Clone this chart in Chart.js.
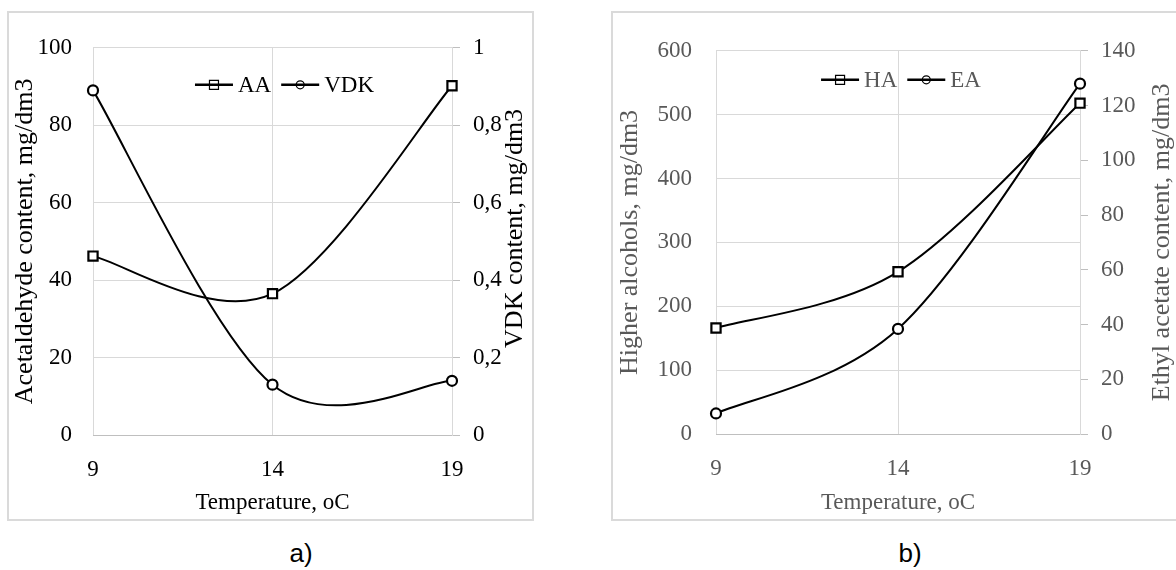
<!DOCTYPE html>
<html>
<head>
<meta charset="utf-8">
<script src="https://cdn.jsdelivr.net/npm/chart.js@4.4.0/dist/chart.umd.min.js"></script>
<style>
  html, body { margin: 0; padding: 0; background: #fff; width: 1176px; height: 570px; overflow: hidden; }
  .box { position: absolute; top: 11px; height: 506px; border: 2px solid #dadada; }
  #boxA { left: 7px; width: 523px; }
  #boxB { left: 611px; width: 580px; }
  .cap { position: absolute; top: 538px; width: 60px; text-align: center; font: 26px "Liberation Sans", Arial, sans-serif; color: #000; }
</style>
</head>
<body>
<div class="box" id="boxA"><canvas id="chartA" width="523" height="506"></canvas></div>
<div class="box" id="boxB"><canvas id="chartB" width="580" height="506"></canvas></div>
<div class="cap" style="left:271px">a)</div>
<div class="cap" style="left:880px">b)</div>
<script>
// shared x categories
const temps = ['9', '14', '19'];

// chart a)
const aaValues = [46.2, 36.5, 90.2];
const vdkValues = [0.89, 0.13, 0.14];
const aaTicks = [0, 20, 40, 60, 80, 100];
const vdkTicks = [0, 0.2, 0.4, 0.6, 0.8, 1];

// chart b)
const haValues = [166, 254, 518];
const eaValues = [7.5, 38.4, 128];
const haTicks = [0, 100, 200, 300, 400, 500, 600];
const eaTicks = [0, 20, 40, 60, 80, 100, 120, 140];

const SERIF = "'Liberation Serif', 'Times New Roman', serif";
Chart.defaults.font.family = SERIF;

// excel style smoothing: uniform catmull-rom tangents instead of chart.js distance weighted ones
const excelSmooth = {
  id: 'excelSmooth',
  beforeDatasetsDraw(chart) {
    chart.getSortedVisibleDatasetMetas().forEach(meta => {
      const line = meta.dataset;
      line.updateControlPoints(chart.chartArea, meta.iScale.axis);
      const pts = meta.data;
      pts.forEach((p, i) => {
        const prev = pts[i - 1] || p, next = pts[i + 1] || p;
        const dx = (next.x - prev.x) / 6, dy = (next.y - prev.y) / 6;
        p.cp1x = p.x - dx; p.cp1y = p.y - dy;
        p.cp2x = p.x + dx; p.cp2y = p.y + dy;
      });
      line._path = undefined;
    });
  }
};

// axis titles + excel-like legend (line with marker in the middle)
const decor = {
  id: 'decor',
  afterDraw(chart, args, o) {
    const { ctx, chartArea: a } = chart;
    const midX = (a.left + a.right) / 2, midY = (a.top + a.bottom) / 2;
    ctx.save();
    ctx.fillStyle = o.color;
    ctx.textAlign = 'center';
    ctx.textBaseline = 'middle';
    ctx.font = o.xTitleFont;
    ctx.fillText(o.xTitle, midX, a.bottom + o.xTitleGap);
    ctx.font = o.yTitleFont;
    [[o.leftTitle, a.left - o.leftGap, 0], [o.rightTitle, a.right + o.rightGap, o.rightDy]].forEach(([t, x, dy]) => {
      ctx.save();
      ctx.translate(x, midY + dy);
      ctx.rotate(-Math.PI / 2);
      ctx.fillText(t, 0, 0);
      ctx.restore();
    });

    // legend
    const ds = chart.data.datasets;
    const seg = 38, gap = 5, between = 10;
    ctx.font = o.legendFont;
    const widths = ds.map(d => seg + gap + ctx.measureText(d.label).width);
    const total = widths.reduce((s, w) => s + w, 0) + between * (ds.length - 1);
    let x = midX + o.legendDx - total / 2;
    const y = a.top + o.legendDy;
    ds.forEach((d, i) => {
      ctx.strokeStyle = '#000';
      ctx.lineWidth = 2.5;
      ctx.beginPath(); ctx.moveTo(x, y); ctx.lineTo(x + seg, y); ctx.stroke();
      ctx.lineWidth = 1.2;
      const cx = x + seg / 2;
      ctx.beginPath();
      if (d.pointStyle === 'rect') ctx.rect(cx - 4.5, y - 4.5, 9, 9);
      else ctx.arc(cx, y, 4, 0, Math.PI * 2);
      ctx.stroke();
      ctx.fillStyle = o.color;
      ctx.textAlign = 'left';
      ctx.fillText(d.label, x + seg + gap, y + 1);
      x += widths[i] + between;
    });
    ctx.restore();
  }
};

function series(label, data, axis, style) {
  return {
    label: label, data: data, yAxisID: axis,
    borderColor: '#000', borderWidth: 2, tension: 0.4, clip: false,
    pointStyle: style, pointRadius: style === 'rect' ? 6.5 : 5,
    pointBorderWidth: 2.2, pointBorderColor: '#000', pointBackgroundColor: '#fff'
  };
}

function makeChart(id, cfg) {
  const font = { family: SERIF, size: 23 };
  return new Chart(document.getElementById(id), {
    type: 'line',
    data: { labels: temps, datasets: cfg.datasets },
    options: {
      responsive: false,
      animation: false,
      events: [],
      layout: { padding: { top: cfg.top, left: 0, right: 0, bottom: 0 } },
      plugins: {
        legend: { display: false },
        tooltip: { enabled: false },
        decor: cfg.decor
      },
      scales: {
        x: {
          type: 'category', offset: false,
          grid: { color: '#d9d9d9', drawTicks: false },
          border: { color: '#bfbfbf' },
          ticks: { color: cfg.color, font: font, padding: 21, maxRotation: 0 },
          afterFit: s => { s.height = cfg.bottom; }
        },
        y: {
          position: 'left', min: cfg.leftTicks[0], max: cfg.leftTicks[cfg.leftTicks.length - 1],
          afterBuildTicks: s => { s.ticks = cfg.leftTicks.map(v => ({ value: v })); },
          grid: { color: '#d9d9d9', drawTicks: false },
          border: { display: false },
          ticks: { color: cfg.color, font: font, padding: cfg.leftPad },
          afterFit: s => { s.width = cfg.leftW; }
        },
        y1: {
          position: 'right', min: cfg.rightTicks[0], max: cfg.rightTicks[cfg.rightTicks.length - 1],
          afterBuildTicks: s => { s.ticks = cfg.rightTicks.map(v => ({ value: v })); },
          grid: { drawOnChartArea: false, color: '#bfbfbf', tickLength: 8 },
          border: { color: '#d9d9d9' },
          ticks: { color: cfg.color, font: font, padding: 13, callback: v => String(v).replace('.', ',') },
          afterFit: s => { s.width = cfg.rightW; }
        }
      }
    },
    plugins: [excelSmooth, decor]
  });
}

makeChart('chartA', {
  datasets: [series('AA', aaValues, 'y', 'rect'), series('VDK', vdkValues, 'y1', 'circle')],
  leftTicks: aaTicks, rightTicks: vdkTicks,
  top: 22, bottom: 84, leftW: 84, rightW: 80, leftPad: 21,
  color: '#000',
  decor: {
    color: '#000',
    xTitle: 'Temperature, oC', xTitleGap: 68, xTitleFont: '23px ' + SERIF,
    leftTitle: 'Acetaldehyde content, mg/dm3', leftGap: 68,
    rightTitle: 'VDK content, mg/dm3', rightGap: 63, rightDy: -13,
    yTitleFont: '26px ' + SERIF,
    legendFont: '23px ' + SERIF, legendDx: 12, legendDy: 37
  }
});

makeChart('chartB', {
  datasets: [series('HA', haValues, 'y', 'rect'), series('EA', eaValues, 'y1', 'circle')],
  leftTicks: haTicks, rightTicks: eaTicks,
  top: 23, bottom: 85, leftW: 103, rightW: 113, leftPad: 24,
  color: '#595959',
  decor: {
    color: '#595959',
    xTitle: 'Temperature, oC', xTitleGap: 69, xTitleFont: '23px ' + SERIF,
    leftTitle: 'Higher alcohols, mg/dm3', leftGap: 86,
    rightTitle: 'Ethyl acetate content, mg/dm3', rightGap: 82, rightDy: 0,
    yTitleFont: '26px ' + SERIF,
    legendFont: '23px ' + SERIF, legendDx: 3, legendDy: 29
  }
});
</script>
</body>
</html>
